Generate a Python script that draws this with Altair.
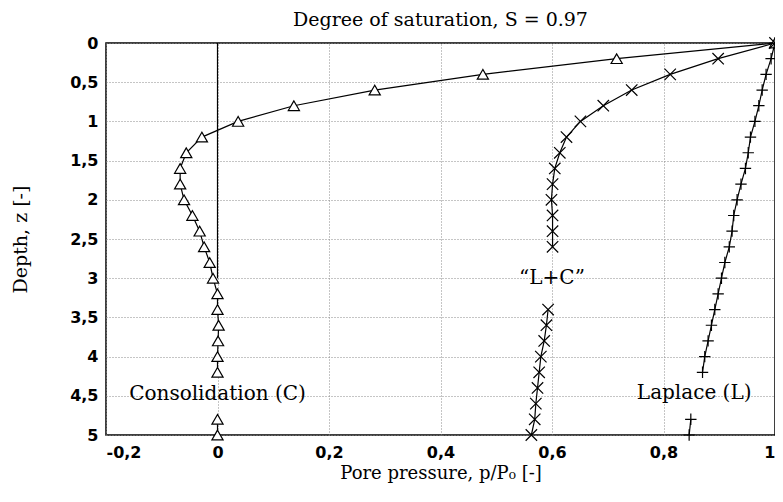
import altair as alt
import pandas as pd

# ---- data ----
cons_z = [0.0, 0.2, 0.4, 0.6, 0.8, 1.0, 1.2, 1.4, 1.6, 1.8, 2.0, 2.2, 2.4, 2.6, 2.8,
          3.0, 3.2, 3.4, 3.6, 3.8, 4.0, 4.2, 4.8, 5.0]
cons_p = [1.0, 0.716, 0.476, 0.282, 0.137, 0.037, -0.028, -0.056, -0.067, -0.067,
          -0.060, -0.045, -0.032, -0.024, -0.014, -0.008, 0.0, 0.0, 0.002, 0.001,
          0.0, 0.0, 0.0, 0.0]
cons_seg = [1] * 22 + [2] * 2

lc_z = [0.0, 0.2, 0.4, 0.6, 0.8, 1.0, 1.2, 1.4, 1.6, 1.8, 2.0, 2.2, 2.4, 2.6,
        3.4, 3.6, 3.8, 4.0, 4.2, 4.4, 4.6, 4.8, 5.0]
lc_p = [1.0, 0.898, 0.812, 0.743, 0.692, 0.651, 0.626, 0.614, 0.605, 0.601, 0.599,
        0.601, 0.601, 0.601, 0.593, 0.590, 0.586, 0.580, 0.577, 0.574, 0.571,
        0.569, 0.563]
lc_seg = [1] * 14 + [2] * 9

lap_z = [0.0, 0.2, 0.4, 0.6, 0.8, 1.0, 1.2, 1.4, 1.6, 1.8, 2.0, 2.2, 2.4, 2.6, 2.8,
         3.0, 3.2, 3.4, 3.6, 3.8, 4.0, 4.2, 4.8, 5.0]
lap_p = [1.0, 0.993, 0.984, 0.977, 0.971, 0.964, 0.956, 0.952, 0.947, 0.939, 0.932,
         0.926, 0.923, 0.918, 0.910, 0.904, 0.898, 0.892, 0.886, 0.880, 0.874, 0.870,
         0.849, 0.846]
lap_seg = [1] * 22 + [2] * 2

zero_z = [0.0, 3.0]
zero_p = [0.0, 0.0]

label_text = ["Consolidation (C)", "\u201cL+C\u201d", "Laplace (L)"]
label_p = [0.0, 0.6, 0.855]
label_z = [4.48, 3.0, 4.47]

x_ticks = [-0.2, 0, 0.2, 0.4, 0.6, 0.8, 1]
y_ticks = [0, 0.5, 1, 1.5, 2, 2.5, 3, 3.5, 4, 4.5, 5]

cons = pd.DataFrame({"p": cons_p, "z": cons_z, "seg": cons_seg})
lc = pd.DataFrame({"p": lc_p, "z": lc_z, "seg": lc_seg})
lap = pd.DataFrame({"p": lap_p, "z": lap_z, "seg": lap_seg})
zero = pd.DataFrame({"p": zero_p, "z": zero_z})
labels = pd.DataFrame({"t": label_text, "p": label_p, "z": label_z})

SERIF = "DejaVu Serif"
SANS = "DejaVu Sans"

xs = alt.Scale(domain=[-0.2, 1], nice=False, zero=False)
ys = alt.Scale(domain=[0, 5], reverse=True, nice=False, zero=False)

X = alt.X("p:Q", scale=xs, axis=alt.Axis(
    values=x_ticks, title="Pore pressure, p/P\u2080 [-]",
    labelExpr="replace(toString(datum.value), '.', ',')",
    labelPadding=9, titlePadding=4, titleFontSize=18))
Y = alt.Y("z:Q", scale=ys, axis=alt.Axis(
    values=y_ticks, title="Depth, z [-]",
    labelExpr="replace(toString(datum.value), '.', ',')",
    labelPadding=8, titlePadding=39))

line_kw = dict(color="black", strokeWidth=1.2)

def series(df, shape, size, fill):
    ln = alt.Chart(df).mark_line(**line_kw).encode(
        x=X, y=Y, detail="seg:N", order="z:Q")
    kw = dict(shape=shape, size=size, filled=False, stroke="black",
              strokeWidth=1.2, opacity=1, clip=False)
    if fill:
        kw.update(fill=fill, fillOpacity=1)
    pt = alt.Chart(df).mark_point(**kw).encode(x=X, y=Y)
    return ln + pt

zero_line = alt.Chart(zero).mark_line(**line_kw).encode(x=X, y=Y, order="z:Q")

cons_layer = series(cons, "triangle-up", 125, "white")
lc_layer = series(lc, "M-1,-1L1,1M-1,1L1,-1", 130, None)
lap_layer = series(lap, "M-1,0L1,0M0,-1L0,1", 130, None)

text_layer = alt.Chart(labels).mark_text(
    font=SERIF, fontSize=20, color="black", align="center", baseline="middle"
).encode(x=X, y=Y, text="t:N")

chart = alt.layer(zero_line, cons_layer, lc_layer, lap_layer, text_layer).properties(
    width=669, height=392,
    background="white",
    title=alt.TitleParams("Degree of saturation, S = 0.97", font=SERIF,
                          fontSize=19, fontWeight="normal", color="black", offset=5),
    autosize=alt.AutoSizeParams(type="none"),
    padding={"left": 98, "top": 35, "right": 0, "bottom": 53},
).configure_view(
    stroke="black", strokeWidth=1.5
).configure_axis(
    domain=False, ticks=False,
    grid=True, gridColor="#8a8a8a", gridDash=[1, 2], gridWidth=1,
    labelFont=SANS, labelFontSize=16, labelFontWeight="bold", labelColor="black",
    titleFont=SERIF, titleFontSize=19, titleFontWeight="normal", titleColor="black",
)

chart.save("out.html", embed_options={"renderer": "svg", "actions": False})
